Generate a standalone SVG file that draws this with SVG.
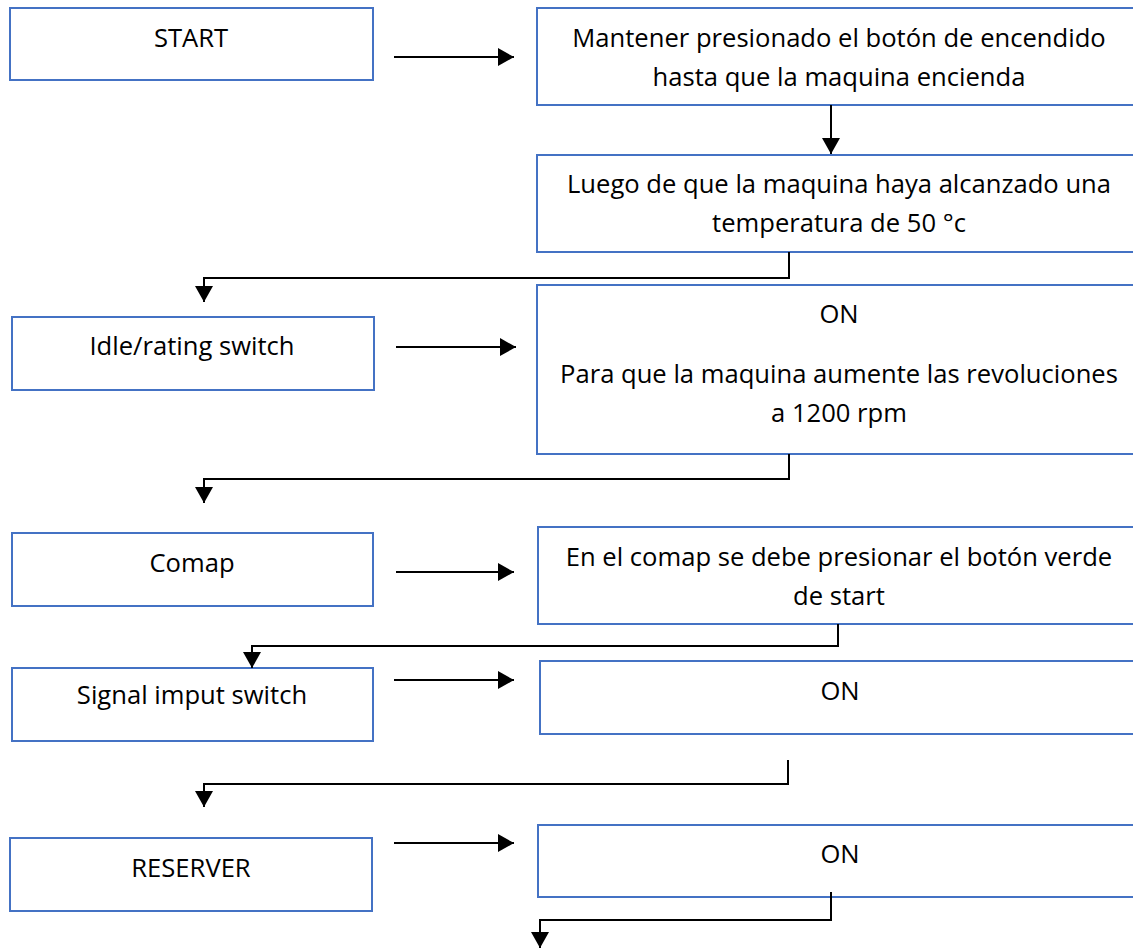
<svg xmlns="http://www.w3.org/2000/svg" width="1133" height="949" viewBox="0 0 1133 949">
  <style>
    .box { fill: #ffffff; stroke: #4472C4; stroke-width: 2; }
    .lbl { font-family: "Open Sans", Lato, "Liberation Sans", sans-serif; font-size: 25.6px; fill: #000000; text-anchor: middle; }
    .wire { fill: none; stroke: #000000; stroke-width: 2; }
  </style>
  <defs>
    <marker id="head" markerUnits="userSpaceOnUse" markerWidth="16" markerHeight="18" refX="16" refY="9" orient="auto">
      <path d="M0,0 L16,9 L0,18 z" fill="#000000"/>
    </marker>
  </defs>
  <rect width="1133" height="949" fill="#ffffff"/>

  <g id="start">
    <rect class="box" x="10" y="8" width="363" height="72"/>
    <text class="lbl" x="191" y="47">START</text>
  </g>
  <g id="mantener">
    <rect class="box" x="537" y="8" width="604" height="97"/>
    <text class="lbl" x="839" y="47">Mantener presionado el botón de encendido</text>
    <text class="lbl" x="839" y="86">hasta que la maquina encienda</text>
  </g>
  <g id="luego">
    <rect class="box" x="537" y="155" width="604" height="97"/>
    <text class="lbl" x="839" y="193">Luego de que la maquina haya alcanzado una</text>
    <text class="lbl" x="839" y="232">temperatura de 50 °c</text>
  </g>
  <g id="idle">
    <rect class="box" x="12" y="317" width="362" height="73"/>
    <text class="lbl" x="192" y="355">Idle/rating switch</text>
  </g>
  <g id="on-rpm">
    <rect class="box" x="537" y="285" width="604" height="169"/>
    <text class="lbl" x="839" y="323">ON</text>
    <text class="lbl" x="839" y="383">Para que la maquina aumente las revoluciones</text>
    <text class="lbl" x="839" y="422">a 1200 rpm</text>
  </g>
  <g id="comap">
    <rect class="box" x="12" y="533" width="361" height="73"/>
    <text class="lbl" x="192" y="572">Comap</text>
  </g>
  <g id="comap-start">
    <rect class="box" x="538" y="527" width="603" height="97"/>
    <text class="lbl" x="839" y="566">En el comap se debe presionar el botón verde</text>
    <text class="lbl" x="839" y="605">de start</text>
  </g>
  <g id="signal">
    <rect class="box" x="12" y="668" width="361" height="73"/>
    <text class="lbl" x="192" y="704">Signal imput switch</text>
  </g>
  <g id="on-signal">
    <rect class="box" x="540" y="661" width="601" height="73"/>
    <text class="lbl" x="840" y="700">ON</text>
  </g>
  <g id="reserver">
    <rect class="box" x="10" y="838" width="362" height="73"/>
    <text class="lbl" x="191" y="877">RESERVER</text>
  </g>
  <g id="on-reserver">
    <rect class="box" x="538" y="825" width="603" height="72"/>
    <text class="lbl" x="840" y="863">ON</text>
  </g>

  <g id="connectors">
    <line class="wire" x1="394" y1="57" x2="514" y2="57" marker-end="url(#head)"/>
    <line class="wire" x1="831" y1="105" x2="831" y2="154" marker-end="url(#head)"/>
    <path class="wire" d="M789,252 V278 H204 V302" marker-end="url(#head)"/>
    <line class="wire" x1="396" y1="347" x2="516" y2="347" marker-end="url(#head)"/>
    <path class="wire" d="M789,454 V479 H204 V503" marker-end="url(#head)"/>
    <line class="wire" x1="396" y1="572" x2="514" y2="572" marker-end="url(#head)"/>
    <path class="wire" d="M838,624 V646 H252 V668" marker-end="url(#head)"/>
    <line class="wire" x1="394" y1="680" x2="514" y2="680" marker-end="url(#head)"/>
    <path class="wire" d="M788,760 V784 H204 V807" marker-end="url(#head)"/>
    <line class="wire" x1="394" y1="843" x2="514" y2="843" marker-end="url(#head)"/>
    <path class="wire" d="M831,892 V920 H540 V948" marker-end="url(#head)"/>
  </g>
</svg>
